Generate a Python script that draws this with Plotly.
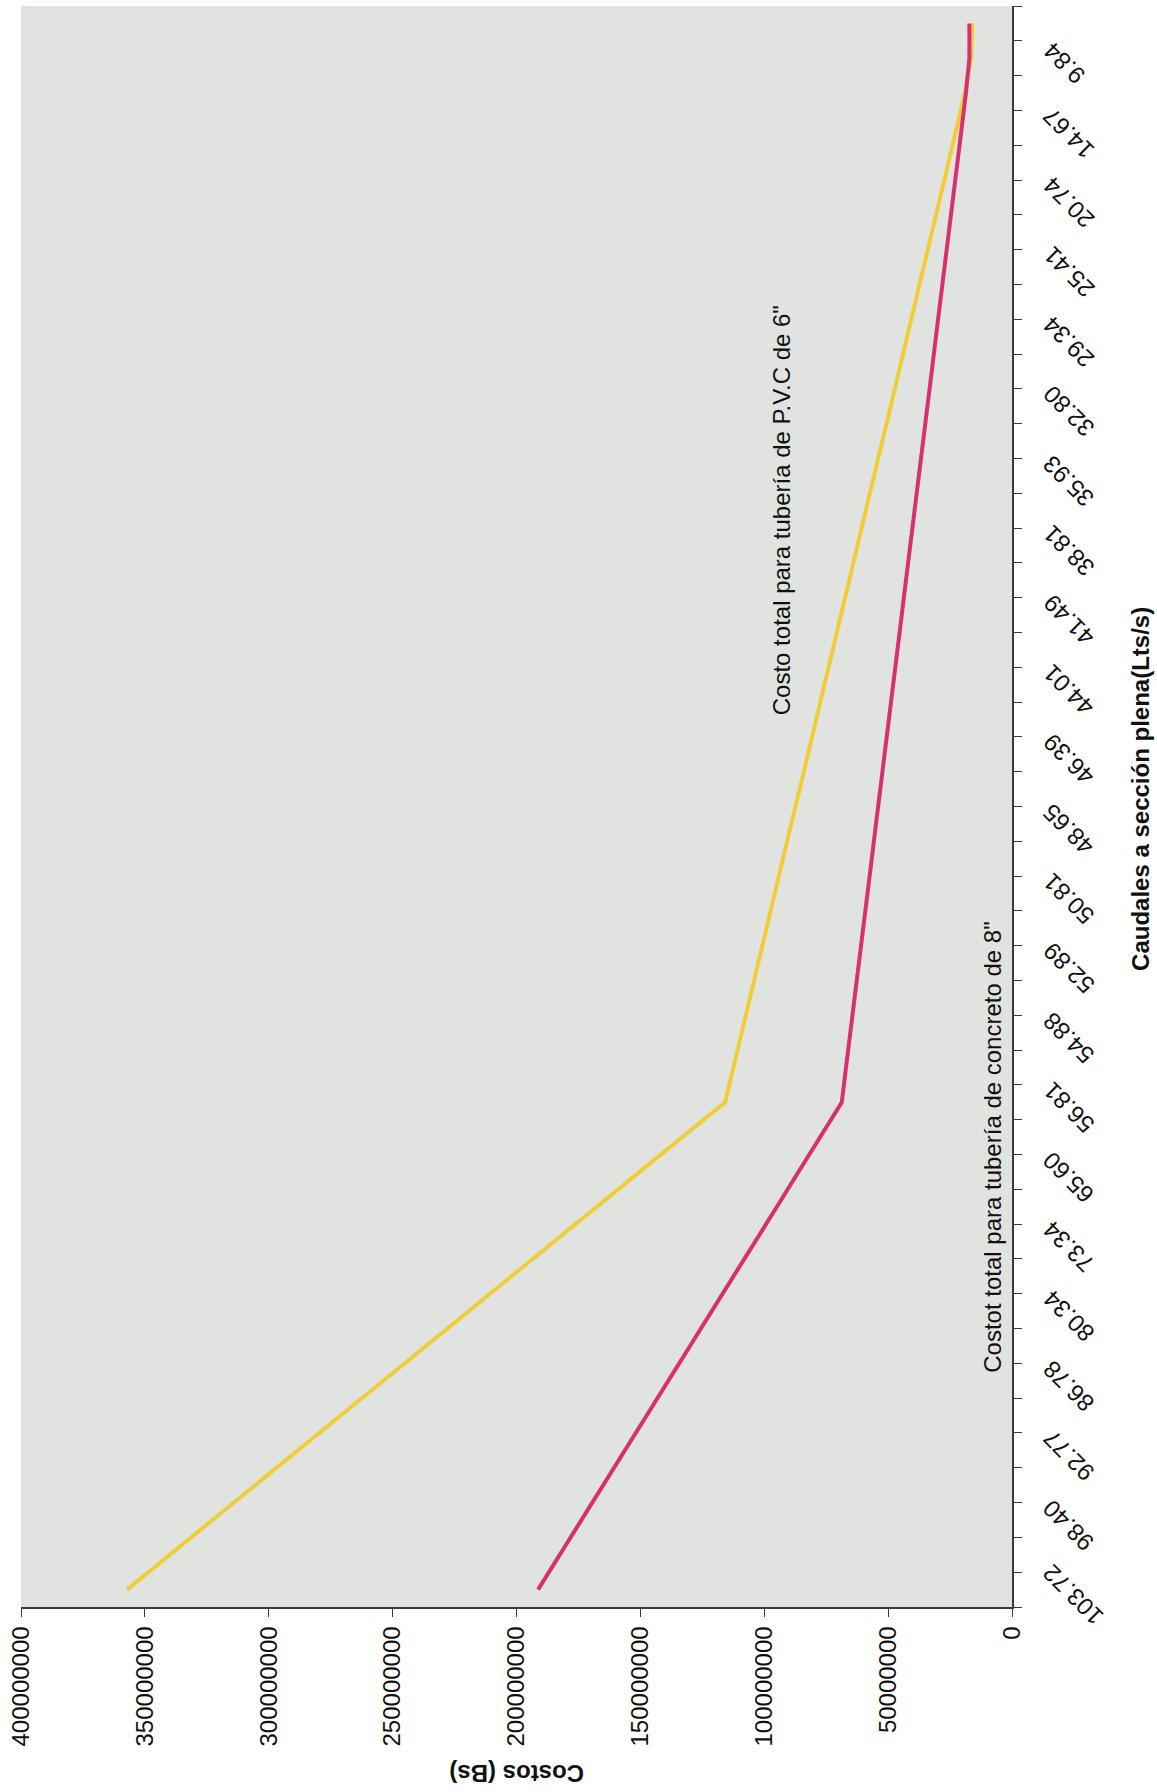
import plotly.graph_objects as go

# Caudales a sección plena (Lts/s); the axis prints every second row of the table,
# starting from the first row (103.72) and leaving the last row unlabelled.
caudal_labels = [
    "103.72", "98.40", "92.77", "86.78", "80.34", "73.34", "65.60", "56.81",
    "54.88", "52.89", "50.81", "48.65", "46.39", "44.01", "41.49", "38.81",
    "35.93", "32.80", "29.34", "25.41", "20.74", "14.67", "9.84",
]
n_rows = 46
row_pos = list(range(n_rows))
label_pos = [2 * i for i in range(len(caudal_labels))]

# Costo total (Bs) per row, in millions
costo_pvc_6 = [
    357.2, 340.0, 322.7, 305.5, 288.2, 271.0, 253.8, 236.5, 219.3, 202.0,
    184.8, 167.6, 150.3, 133.1, 115.8, 112.5, 109.1, 105.8, 102.4, 99.1,
    95.8, 92.4, 89.1, 85.7, 82.4, 79.0, 75.7, 72.4, 69.0, 65.7,
    62.4, 59.0, 55.7, 52.3, 49.0, 45.6, 42.3, 39.0, 35.6, 32.3,
    29.0, 25.6, 22.3, 19.0, 16.5, 16.0,
]
costo_concreto_8 = [
    191.3, 182.5, 173.8, 165.0, 156.3, 147.5, 138.7, 130.0, 121.2, 112.5,
    103.7, 94.9, 86.2, 77.4, 68.7, 67.0, 65.2, 63.5, 61.8, 60.1,
    58.3, 56.6, 54.9, 53.1, 51.4, 49.7, 48.0, 46.2, 44.5, 42.8,
    41.0, 39.3, 37.6, 35.9, 34.1, 32.4, 30.7, 28.9, 27.2, 25.5,
    23.8, 22.0, 20.3, 18.6, 17.2, 17.2,
]
cost_ticks = [0, 50e6, 100e6, 150e6, 200e6, 250e6, 300e6, 350e6, 400e6]

FONT = "Liberation Sans, Arial, sans-serif"
AXIS_COLOR = "#3a3a3a"
TEXT_COLOR = "#111111"

fig = go.Figure()
fig.add_trace(go.Scatter(
    x=[v * 1e6 for v in costo_pvc_6], y=row_pos, mode="lines",
    line=dict(color="#efcd38", width=4), name="PVC 6\"",
))
fig.add_trace(go.Scatter(
    x=[v * 1e6 for v in costo_concreto_8], y=row_pos, mode="lines",
    line=dict(color="#d6306e", width=4), name="Concreto 8\"",
))

fig.update_layout(
    width=1157, height=1792,
    margin=dict(l=21, r=145, t=6, b=185),
    paper_bgcolor="white",
    plot_bgcolor="#e1e3e1",
    showlegend=False,
    font=dict(family=FONT, size=24, color=TEXT_COLOR),
)

# Cost axis runs along the bottom, zero on the right
fig.update_xaxes(
    range=[400e6, 0], tickvals=cost_ticks, tickformat="d",
    tickangle=-90, ticks="outside", ticklen=8, tickcolor=AXIS_COLOR,
    showline=True, linecolor=AXIS_COLOR, linewidth=1.5,
    showgrid=False, zeroline=False,
    tickfont=dict(size=24, family=FONT),
)

# Flow axis on the right, one tick mark between each pair of rows
fig.update_yaxes(
    range=[-0.5, n_rows - 0.5], side="right",
    tickmode="array", tickvals=label_pos, ticktext=caudal_labels,
    showticklabels=False, ticks="",
    minor=dict(tickmode="array", tickvals=[i - 0.5 for i in range(n_rows + 1)],
               ticks="outside", ticklen=8, tickcolor=AXIS_COLOR, showgrid=False),
    showline=True, linecolor=AXIS_COLOR, linewidth=1.5,
    showgrid=False, zeroline=False,
)

# Slanted flow labels, reading upwards towards the axis
for pos, lab in zip(label_pos, caudal_labels):
    fig.add_annotation(
        xref="paper", yref="y", x=1.023, y=pos, text=lab,
        xanchor="left", yanchor="middle", yshift=-5,
        textangle=-135, showarrow=False,
        font=dict(size=24, family=FONT, color=TEXT_COLOR),
    )

fig.add_annotation(
    x=93e6, y=31.0, text="Costo total para tubería de P.V.C de 6\"",
    textangle=-90, showarrow=False, xanchor="center", yanchor="middle",
    font=dict(size=24, family=FONT),
)
fig.add_annotation(
    x=8e6, y=12.7, text="Costot total para tubería de concreto de 8\"",
    textangle=-90, showarrow=False, xanchor="center", yanchor="middle",
    font=dict(size=24, family=FONT),
)
fig.add_annotation(
    xref="paper", x=1.129, y=23,
    text="<b>Caudales a sección plena(Lts/s)</b>",
    textangle=-90, showarrow=False, xanchor="center", yanchor="middle",
    font=dict(size=24, family=FONT),
)
fig.add_annotation(
    xref="paper", yref="paper", x=0.5, y=-0.104,
    text="<b>Costos (Bs)</b>",
    textangle=180, showarrow=False, xanchor="center", yanchor="middle",
    font=dict(size=24, family=FONT),
)

fig.write_html("out.html")
